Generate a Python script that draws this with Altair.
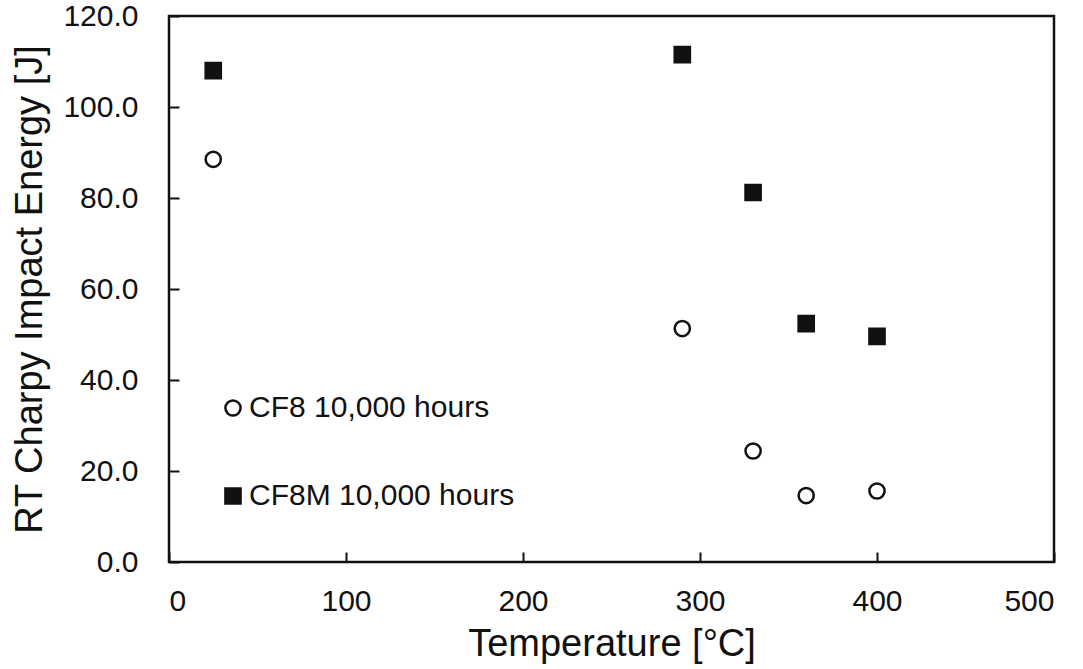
import altair as alt
import pandas as pd

temperature = [25, 290, 330, 360, 400]
cf8_energy = [88.5, 51.3, 24.4, 14.6, 15.6]
cf8m_energy = [108.0, 111.5, 81.2, 52.4, 49.6]
series_names = ["CF8 10,000 hours", "CF8M 10,000 hours"]
x_ticks = [0, 100, 200, 300, 400, 500]
y_ticks = [0, 20, 40, 60, 80, 100, 120]

rows = []
for t, e in zip(temperature, cf8_energy):
    rows.append({"Temperature": t, "Energy": e, "Series": series_names[0]})
for t, e in zip(temperature, cf8m_energy):
    rows.append({"Temperature": t, "Energy": e, "Series": series_names[1]})
df = pd.DataFrame(rows)

FONT = "Liberation Sans"
INK = "#111111"

legend_kw = dict(title=None, orient="none", legendX=49, legendY=377,
                 labelFont=FONT, labelFontSize=30, labelColor=INK, labelLimit=0,
                 symbolSize=230, symbolStrokeWidth=2.5,
                 rowPadding=58, labelOffset=1)

chart = alt.Chart(df).mark_point(filled=False, strokeWidth=2.5, opacity=1).encode(
    x=alt.X("Temperature:Q",
            scale=alt.Scale(domain=[0, 500], nice=False, zero=False),
            axis=alt.Axis(values=x_ticks, format="d", title="Temperature [°C]",
                          grid=False, domain=False, ticks=True, tickSize=10,
                          tickWidth=2, tickColor=INK, offset=-10,
                          labelPadding=24, labelFontSize=30, labelFont=FONT,
                          labelColor=INK, titleFont=FONT, titleFontSize=38,
                          titleFontWeight="normal", titleColor=INK,
                          titlePadding=9)),
    y=alt.Y("Energy:Q",
            scale=alt.Scale(domain=[0, 120], nice=False),
            axis=alt.Axis(values=y_ticks, format=".1f", title="RT Charpy Impact Energy [J]",
                          grid=False, domain=False, ticks=True, tickSize=10,
                          tickWidth=2, tickColor=INK, offset=-10,
                          labelPadding=31, labelFontSize=30, labelFont=FONT,
                          labelColor=INK, titleFont=FONT, titleFontSize=38,
                          titleFontWeight="normal", titleColor=INK,
                          titlePadding=13)),
    shape=alt.Shape("Series:N",
                    scale=alt.Scale(domain=series_names, range=["circle", "square"]),
                    legend=alt.Legend(**legend_kw)),
    fill=alt.Fill("Series:N",
                  scale=alt.Scale(domain=series_names, range=["white", INK]),
                  legend=alt.Legend(**legend_kw)),
    stroke=alt.value(INK),
    size=alt.value(230),
).properties(
    width=885,
    height=546,
    autosize=alt.AutoSizeParams(type="none"),
    padding={"left": 169, "top": 16, "right": 29, "bottom": 107},
).configure(
    background="white"
).configure_view(
    stroke=INK, strokeWidth=2.5
)

chart.save("out.html", embed_options={"renderer": "svg", "actions": False})
